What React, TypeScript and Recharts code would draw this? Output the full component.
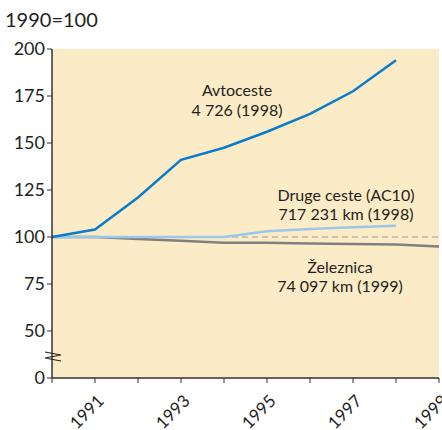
import React from 'react';
import { LineChart, Line, XAxis, YAxis, ReferenceLine } from 'recharts';

// years on the x axis
const years = [1990, 1991, 1992, 1993, 1994, 1995, 1996, 1997, 1998, 1999];
const yearTicks = [1990, 1991, 1992, 1993, 1994, 1995, 1996, 1997, 1998, 1999];
const labelledYears = [1991, 1993, 1995, 1997, 1999];

// index values, 1990 = 100 (null where there is no data)
const avtoceste = [100, 104, 121, 141, 147.5, 156, 165.5, 177.5, 194, null];
const drugeCeste = [100, 100, 100, 100, 100, 103, 104.3, 105.2, 106, null];
const zeleznica = [100, 100, 99, 98, 97, 97, 96.6, 96.3, 96, 95];

// y axis is broken: the bottom tick (25) is shown as "0"
const yTicks = [25, 50, 75, 100, 125, 150, 175, 200];
const yTickLabels = ['0', '50', '75', '100', '125', '150', '175', '200'];

const data = years.map((year, i) => ({
  year,
  avtoceste: avtoceste[i],
  druge: drugeCeste[i],
  zeleznica: zeleznica[i],
}));

const FONT = 'Lato, "Open Sans", sans-serif';
const TEXT = '#231f20';

const XTick = (props: any) => {
  const { x, y, payload } = props;
  if (!labelledYears.includes(payload.value)) return null;
  return (
    <g transform={`translate(${x + 10},${y + 17})`}>
      <text transform="rotate(-45)" textAnchor="end" fill={TEXT} fontSize={17} fontFamily={FONT}>
        {payload.value}
      </text>
    </g>
  );
};

export default function App() {
  return (
    <div style={{ position: 'absolute', left: 0, top: 0, width: 442, height: 430, background: '#fff', overflow: 'hidden' }}>
      <LineChart
        width={442}
        height={430}
        data={data}
        margin={{ top: 49, right: 3, bottom: 7, left: 12 }}
        style={{ overflow: 'visible' }}
      >
        <rect x={52} y={49} width={387} height={329} fill="#fcebc7" />
        <XAxis
          dataKey="year"
          type="number"
          domain={[1990, 1999]}
          ticks={yearTicks}
          interval={0}
          height={45}
          tick={<XTick />}
          tickSize={5}
          stroke="#333"
          axisLine={{ stroke: '#333', strokeWidth: 1.5 }}
        />
        <YAxis
          type="number"
          domain={[25, 200]}
          ticks={yTicks}
          interval={0}
          width={40}
          tickSize={5}
          stroke="#333"
          axisLine={{ stroke: '#333', strokeWidth: 1.5 }}
          tickFormatter={(v: number) => yTickLabels[yTicks.indexOf(v)]}
          tick={{ fill: TEXT, fontSize: 18, fontFamily: FONT }}
        />
        <ReferenceLine y={100} stroke="#999" strokeDasharray="6 4" strokeWidth={1} />
        <Line dataKey="zeleznica" stroke="#808080" strokeWidth={2.5} dot={false} isAnimationActive={false} />
        <Line dataKey="druge" stroke="#9cc7ea" strokeWidth={2.5} dot={false} isAnimationActive={false} />
        <Line dataKey="avtoceste" stroke="#0a7ccb" strokeWidth={2.5} dot={false} isAnimationActive={false} />
      </LineChart>
      <svg width={442} height={430} style={{ position: 'absolute', left: 0, top: 0, pointerEvents: 'none' }}>
        <g fontFamily={FONT} fill={TEXT}>
          <text x={5} y={27} fontSize={20}>1990=100</text>
          <text x={237} y={96} fontSize={16} textAnchor="middle">Avtoceste</text>
          <text x={237} y={116} fontSize={16} textAnchor="middle">4 726 (1998)</text>
          <text x={346} y={201} fontSize={16} textAnchor="middle">Druge ceste (AC10)</text>
          <text x={346} y={220} fontSize={16} textAnchor="middle">717 231 km (1998)</text>
          <text x={340} y={273} fontSize={16} textAnchor="middle">Železnica</text>
          <text x={340} y={292} fontSize={16} textAnchor="middle">74 097 km (1999)</text>
        </g>
        <polyline points="45,352 61,355 45,358 61,361" fill="none" stroke="#222" strokeWidth={1.2} />
      </svg>
    </div>
  );
}
